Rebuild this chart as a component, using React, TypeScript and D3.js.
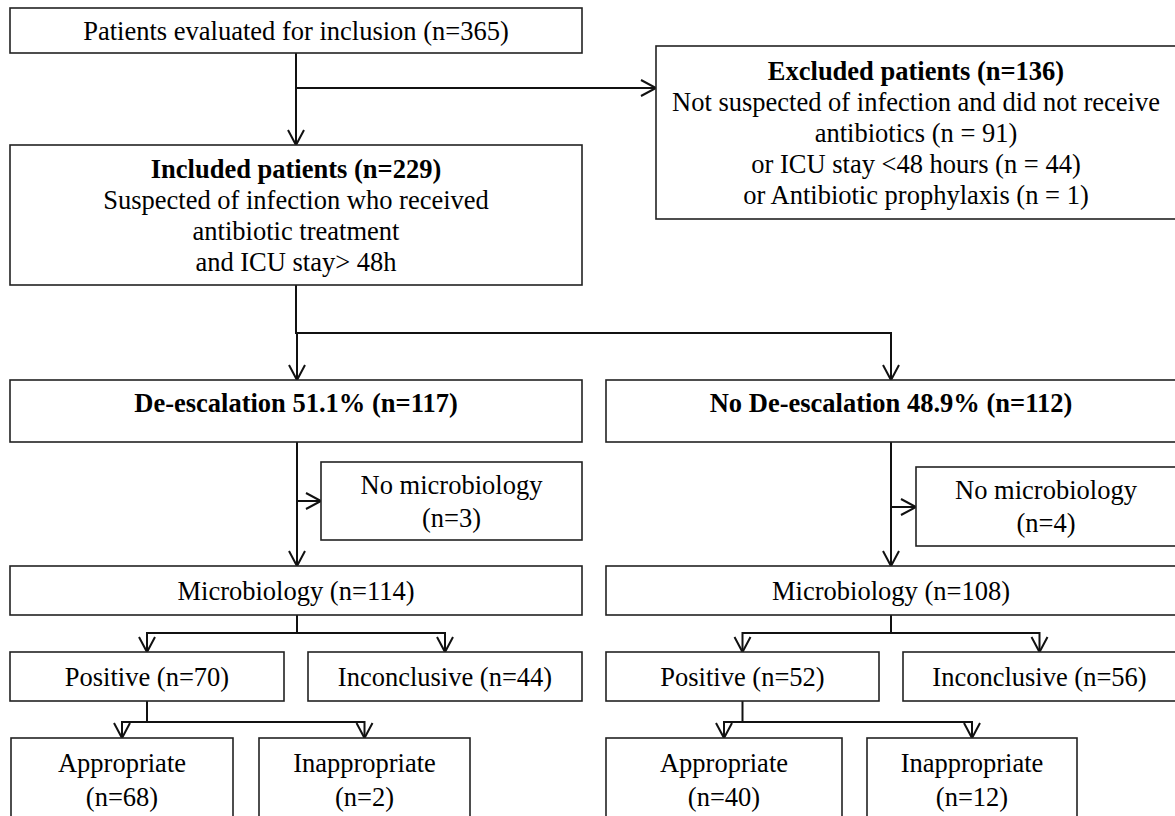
import * as d3 from 'd3'

const W = 1175
const H = 816
const FONT = '"Liberation Serif", "Times New Roman", Times, serif'
const FS = 26.5

// flow numbers
const evaluatedN = 365
const excludedN = 136
const includedN = 229
const exclusionLines = [
  'Not suspected of infection and did not receive',
  'antibiotics (n = 91)',
  'or ICU stay <48 hours (n = 44)',
  'or Antibiotic prophylaxis (n = 1)',
]
const includedLines = ['Suspected of infection who received', 'antibiotic treatment', 'and ICU stay> 48h']
const armNames = ['De-escalation', 'No De-escalation']
const armPct = [51.1, 48.9]
const armN = [117, 112]
const noMicroN = [3, 4]
const microN = [114, 108]
const positiveN = [70, 52]
const inconclusiveN = [44, 56]
const appropriateN = [68, 40]
const inappropriateN = [2, 12]

// layout (pixels)
type Rect = [number, number, number, number]
const topBoxes: Record<string, Rect> = {
  evaluated: [10, 8, 582, 53],
  included: [10, 145, 582, 285],
  excluded: [656, 46, 1176, 219],
}
const rows = { arm: [380, 442], micro: [566, 615], split1: 633, pos: [652, 701], split2: 722, app: [738, 840], armSplit: 333, exclBranch: 88 }
const armLayout = [
  { x: [10, 582], trunk: 297, noMicro: [321, 462, 582, 540] as Rect, side: 501, pos: [10, 284], inc: [308, 582], app: [11, 233], inapp: [259, 470] },
  { x: [606, 1176], trunk: 891, noMicro: [916, 467, 1176, 546] as Rect, side: 507, pos: [606, 879], inc: [903, 1176], app: [606, 842], inapp: [867, 1077] },
]

const line = d3.line<[number, number]>()
const AW = 8
const AL = 15

const arrowDown = (x: number, y: number) => line([[x - AW, y - AL], [x, y], [x + AW, y - AL]]) as string
const arrowRight = (x: number, y: number) => line([[x - AL, y - AW], [x, y], [x - AL, y + AW]]) as string

const Box = ({ r, lines, bold = [], lineGap = 31, yCenter }: { r: Rect; lines: string[]; bold?: number[]; lineGap?: number; yCenter?: number }) => {
  const [x0, y0, x1, y1] = r
  const cx = (x0 + x1) / 2
  const cy = yCenter ?? (y0 + y1) / 2
  const start = cy - ((lines.length - 1) * lineGap) / 2
  return (
    <g>
      <rect x={x0} y={y0} width={x1 - x0} height={y1 - y0} fill="#fff" stroke="#222" strokeWidth={1.6} />
      {lines.map((t, i) => (
        <text
          key={i}
          x={cx}
          y={start + i * lineGap + FS * 0.34}
          textAnchor="middle"
          fontFamily={FONT}
          fontSize={FS}
          fontWeight={bold.includes(i) ? 'bold' : 'normal'}
          fill="#000"
        >
          {t}
        </text>
      ))}
    </g>
  )
}

const App = () => {
  const ev = topBoxes.evaluated
  const inc = topBoxes.included
  const ex = topBoxes.excluded
  const trunk0 = (ev[0] + ev[2]) / 2

  const connectors: string[] = []
  const arrows: string[] = []

  // evaluated -> included / excluded
  connectors.push(line([[trunk0, ev[3]], [trunk0, inc[1]]]) as string)
  arrows.push(arrowDown(trunk0, inc[1]))
  connectors.push(line([[trunk0, rows.exclBranch], [ex[0], rows.exclBranch]]) as string)
  arrows.push(arrowRight(ex[0], rows.exclBranch))

  // included -> arms
  connectors.push(line([[trunk0, inc[3]], [trunk0, rows.armSplit], [armLayout[1].trunk, rows.armSplit], [armLayout[1].trunk, rows.arm[0]]]) as string)
  connectors.push(line([[armLayout[0].trunk, rows.armSplit], [armLayout[0].trunk, rows.arm[0]]]) as string)
  armLayout.forEach(a => arrows.push(arrowDown(a.trunk, rows.arm[0])))

  armLayout.forEach(a => {
    // arm -> microbiology with side exit
    connectors.push(line([[a.trunk, rows.arm[1]], [a.trunk, rows.micro[0]]]) as string)
    arrows.push(arrowDown(a.trunk, rows.micro[0]))
    connectors.push(line([[a.trunk, a.side], [a.noMicro[0], a.side]]) as string)
    arrows.push(arrowRight(a.noMicro[0], a.side))

    // microbiology -> positive / inconclusive
    const pc = (a.pos[0] + a.pos[1]) / 2
    const ic = (a.inc[0] + a.inc[1]) / 2
    connectors.push(line([[a.trunk, rows.micro[1]], [a.trunk, rows.split1]]) as string)
    connectors.push(line([[pc, rows.pos[0]], [pc, rows.split1], [ic, rows.split1], [ic, rows.pos[0]]]) as string)
    arrows.push(arrowDown(pc, rows.pos[0]))
    arrows.push(arrowDown(ic, rows.pos[0]))

    // positive -> appropriate / inappropriate
    const ac = (a.app[0] + a.app[1]) / 2
    const nc = (a.inapp[0] + a.inapp[1]) / 2
    connectors.push(line([[pc, rows.pos[1]], [pc, rows.split2]]) as string)
    connectors.push(line([[ac, rows.app[0]], [ac, rows.split2], [nc, rows.split2], [nc, rows.app[0]]]) as string)
    arrows.push(arrowDown(ac, rows.app[0]))
    arrows.push(arrowDown(nc, rows.app[0]))
  })

  return (
    <svg width={W} height={H} style={{ position: 'absolute', left: 0, top: 0, background: '#fff' }}>
      {connectors.map((d, i) => (
        <path key={'c' + i} d={d} fill="none" stroke="#111" strokeWidth={2} />
      ))}
      {arrows.map((d, i) => (
        <path key={'a' + i} d={d} fill="none" stroke="#111" strokeWidth={2} />
      ))}

      <Box r={ev} lines={[`Patients evaluated for inclusion (n=${evaluatedN})`]} />
      <Box r={inc} lines={[`Included patients (n=${includedN})`, ...includedLines]} bold={[0]} />
      <Box r={ex} lines={[`Excluded patients (n=${excludedN})`, ...exclusionLines]} bold={[0]} />

      {armLayout.map((a, k) => (
        <g key={k}>
          <Box
            r={[a.x[0], rows.arm[0], a.x[1], rows.arm[1]]}
            lines={[`${armNames[k]} ${armPct[k]}% (n=${armN[k]})`]}
            bold={[0]}
            yCenter={rows.arm[0] + 23}
          />
          <Box r={a.noMicro} lines={['No microbiology', `(n=${noMicroN[k]})`]} lineGap={33} />
          <Box r={[a.x[0], rows.micro[0], a.x[1], rows.micro[1]]} lines={[`Microbiology (n=${microN[k]})`]} />
          <Box r={[a.pos[0], rows.pos[0], a.pos[1], rows.pos[1]]} lines={[`Positive (n=${positiveN[k]})`]} />
          <Box r={[a.inc[0], rows.pos[0], a.inc[1], rows.pos[1]]} lines={[`Inconclusive (n=${inconclusiveN[k]})`]} />
          <Box r={[a.app[0], rows.app[0], a.app[1], rows.app[1]]} lines={['Appropriate', `(n=${appropriateN[k]})`]} lineGap={34} yCenter={780} />
          <Box r={[a.inapp[0], rows.app[0], a.inapp[1], rows.app[1]]} lines={['Inappropriate', `(n=${inappropriateN[k]})`]} lineGap={34} yCenter={780} />
        </g>
      ))}
    </svg>
  )
}

export default App
